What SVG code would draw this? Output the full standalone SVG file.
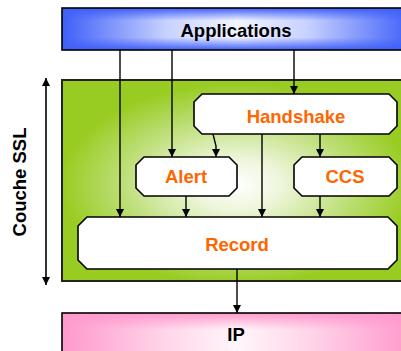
<svg xmlns="http://www.w3.org/2000/svg" width="401" height="351" viewBox="0 0 401 351">
<defs>
<linearGradient id="gBlueH" x1="0" y1="0" x2="1" y2="0">
<stop offset="0" stop-color="#3f5ff8"/>
<stop offset="0.3" stop-color="#c8d2ff"/>
<stop offset="0.5" stop-color="#f2f4ff"/>
<stop offset="0.7" stop-color="#c8d2ff"/>
<stop offset="1" stop-color="#3f5ff8"/>
</linearGradient>
<linearGradient id="gBlueV" x1="0" y1="0" x2="0" y2="1">
<stop offset="0" stop-color="#3f5ff8" stop-opacity="1"/>
<stop offset="0.3" stop-color="#3f5ff8" stop-opacity="0"/>
<stop offset="0.7" stop-color="#3f5ff8" stop-opacity="0"/>
<stop offset="1" stop-color="#3f5ff8" stop-opacity="1"/>
</linearGradient>
<radialGradient id="gGreen" cx="0.5" cy="0.52" r="0.5">
<stop offset="0" stop-color="#ffffff"/>
<stop offset="0.25" stop-color="#eef6dc"/>
<stop offset="0.7" stop-color="#b8dc6c"/>
<stop offset="1" stop-color="#99cc22"/>
</radialGradient>
<linearGradient id="gPinkH" x1="0" y1="0" x2="1" y2="0">
<stop offset="0" stop-color="#ff99cc"/>
<stop offset="0.3" stop-color="#ffd6ea"/>
<stop offset="0.5" stop-color="#fff6fa"/>
<stop offset="0.7" stop-color="#ffd6ea"/>
<stop offset="1" stop-color="#ff99cc"/>
</linearGradient>
<linearGradient id="gPinkV" x1="0" y1="0" x2="0" y2="1">
<stop offset="0" stop-color="#ff99cc" stop-opacity="1"/>
<stop offset="0.3" stop-color="#ff99cc" stop-opacity="0"/>
<stop offset="0.7" stop-color="#ff99cc" stop-opacity="0"/>
<stop offset="1" stop-color="#ff99cc" stop-opacity="1"/>
</linearGradient>
<marker id="ah" viewBox="0 0 8 10" refX="8" refY="5" markerWidth="8" markerHeight="10" markerUnits="userSpaceOnUse" orient="auto-start-reverse">
<path d="M0,1 L8,5 L0,9 Z" fill="#000"/>
</marker>
</defs>
<style>
.box{fill:#fff;stroke:#000;stroke-width:1.6;stroke-linejoin:round}
.lbl{font-family:"Liberation Sans",Arial,sans-serif;font-weight:bold;font-size:18.5px;text-anchor:middle}
.org{fill:#ff6600}
.blk{fill:#000}
.con{fill:none;stroke:#000;stroke-width:1.4;marker-end:url(#ah)}
</style>

<g id="applications">
<rect x="62" y="8" width="350" height="42" fill="url(#gBlueH)"/>
<rect x="62" y="8" width="350" height="42" fill="url(#gBlueV)" stroke="#000" stroke-width="1.6"/>
<text class="lbl blk" x="236" y="37">Applications</text>
</g>

<g id="couche-ssl">
<rect x="62" y="80" width="350" height="201" fill="url(#gGreen)" stroke="#222" stroke-width="2"/>
</g>

<g id="ip">
<rect x="62" y="313" width="350" height="56" fill="url(#gPinkH)"/>
<rect x="62" y="313" width="350" height="56" fill="url(#gPinkV)" stroke="#000" stroke-width="1.6"/>
<text class="lbl blk" x="236" y="341">IP</text>
</g>

<g id="handshake">
<path class="box" d="M202,94 H389 L397,102 V126 L389,134 H202 L194,126 V102 Z"/>
<text class="lbl org" x="296" y="123">Handshake</text>
</g>

<g id="alert">
<path class="box" d="M144,157 H229 L237,165 V188 L229,196 H144 L136,188 V165 Z"/>
<text class="lbl org" x="186" y="183">Alert</text>
</g>

<g id="ccs">
<path class="box" d="M302,157 H389 L397,165 V188 L389,196 H302 L294,188 V165 Z"/>
<text class="lbl org" x="345" y="183">CCS</text>
</g>

<g id="record">
<path class="box" d="M87,217 H388 L397,226 V260 L388,269 H87 L78,260 V226 Z"/>
<text class="lbl org" x="237" y="251">Record</text>
</g>

<g id="label-couche">
<text class="lbl blk" transform="translate(26,182) rotate(-90)">Couche SSL</text>
</g>

<g id="connectors">
<line class="con" x1="120" y1="50" x2="120" y2="217"/>
<line class="con" x1="172" y1="50" x2="172" y2="157"/>
<line class="con" x1="294" y1="50" x2="294" y2="94"/>
<path class="con" d="M213,134 L216,146 L216,157"/>
<line class="con" x1="262" y1="134" x2="262" y2="217"/>
<line class="con" x1="320" y1="134" x2="320" y2="157"/>
<line class="con" x1="186" y1="196" x2="186" y2="217"/>
<line class="con" x1="320" y1="196" x2="320" y2="217"/>
<line class="con" x1="237" y1="269" x2="237" y2="313"/>
<line x1="46" y1="78" x2="46" y2="285" stroke="#000" stroke-width="1.6" marker-start="url(#ah)" marker-end="url(#ah)"/>
</g>
</svg>
